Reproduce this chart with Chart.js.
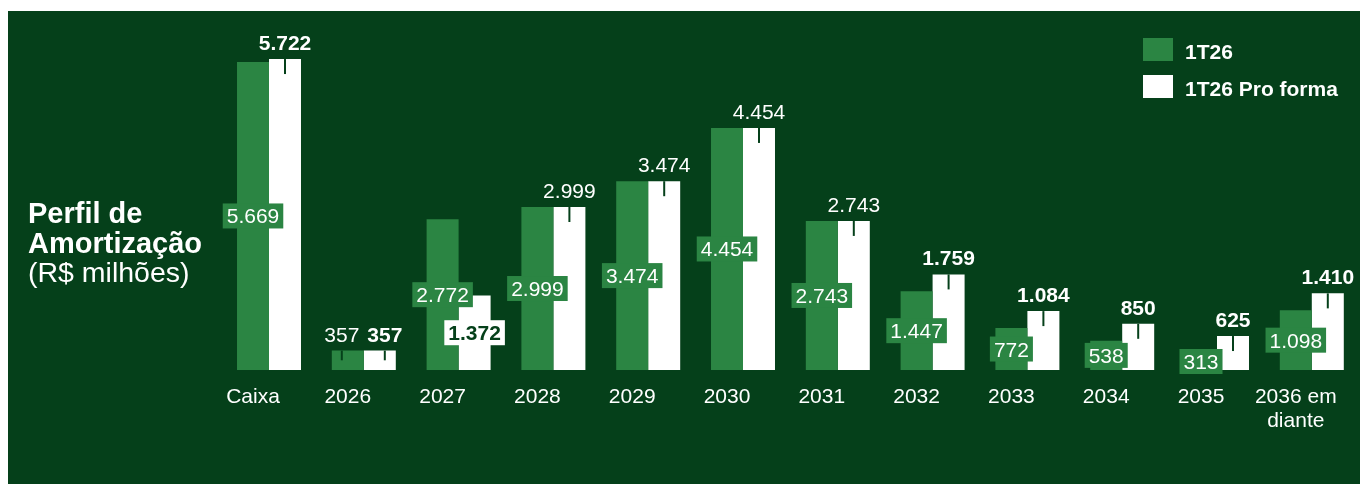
<!DOCTYPE html>
<html><head><meta charset="utf-8">
<script src="https://cdn.jsdelivr.net/npm/chart.js@4/dist/chart.umd.min.js"></script>
<style>html,body{margin:0;padding:0;background:#fff;overflow:hidden}#wrap{width:1360px;height:484px;position:relative}</style>
</head><body><div id="wrap"><canvas id="c" width="1360" height="484"></canvas></div>
<script>
// ---- data ----
const categories = ['Caixa','2026','2027','2028','2029','2030','2031','2032','2033','2034','2035',['2036 em','diante']];
const serie1T26 = [5669,357,2772,2999,3474,4454,2743,1447,772,538,313,1098];
const serieProForma = [5722,357,1372,2999,3474,4454,2743,1759,1084,850,625,1410];
const seriesNames = ['1T26','1T26 Pro forma'];
const titleLines = ['Perfil de','Amortização','(R$ milhões)'];

// ---- label modes (style only) ----
const labelModes1T26 = ['box','above','box','box','box','box','box','box','box','box','box','box'];
const labelModesPF = ['aboveBold','aboveBold','boxDark','above','above','above','above','aboveBold','aboveBold','aboveBold','aboveBold','aboveBold'];
// small horizontal nudges of above-labels to avoid collisions (px)
const labelNudge1T26 = [0,-6,0,0,0,0,0,0,0,0,0,0];
const labelNudgePF = [0,5,0,0,0,0,0,0,0,0,0,0];

const BG = '#05401a';
const GREEN = '#2b8543';
const WHITE = '#ffffff';
const FONT = '"Liberation Sans", Arial, sans-serif';

function fmt(v){ return String(v).replace(/\B(?=(\d{3})+(?!\d))/g,'.'); }

const deco = {
  id:'deco',
  beforeDraw(chart){
    const ctx = chart.ctx;
    ctx.save();
    ctx.fillStyle = '#ffffff';
    ctx.fillRect(0,0,chart.width,chart.height);
    ctx.fillStyle = BG;
    ctx.fillRect(8,11,chart.width-8,chart.height-11);
    ctx.restore();
  },
  afterDatasetsDraw(chart){
    const ctx = chart.ctx;
    const modes = [labelModes1T26, labelModesPF];
    const nudges = [labelNudge1T26, labelNudgePF];
    ctx.save();
    // leader ticks
    chart.data.datasets.forEach((ds,di)=>{
      const meta = chart.getDatasetMeta(di);
      meta.data.forEach((el,i)=>{
        const m = modes[di][i];
        if(m.startsWith('above')){
          const h = el.base - el.y;
          const lx = el.x + nudges[di][i];
          ctx.strokeStyle = BG; ctx.lineWidth = 2;
          ctx.beginPath(); ctx.moveTo(lx, el.y); ctx.lineTo(lx, el.y + Math.min(15, h*0.5)); ctx.stroke();
        }
      });
    });
    // labels
    chart.data.datasets.forEach((ds,di)=>{
      const meta = chart.getDatasetMeta(di);
      meta.data.forEach((el,i)=>{
        const m = modes[di][i];
        const txt = fmt(ds.data[i]);
        ctx.textAlign = 'center';
        if(m.startsWith('above')){
          ctx.font = (m==='aboveBold'?'bold ':'') + '21px ' + FONT;
          ctx.fillStyle = WHITE; ctx.textBaseline = 'alphabetic';
          ctx.fillText(txt, el.x + nudges[di][i], el.y - 9);
        } else {
          const dark = m==='boxDark';
          ctx.font = (dark?'bold ':'') + '21px ' + FONT;
          const w = ctx.measureText(txt).width;
          const my = (el.y + el.base)/2;
          ctx.fillStyle = dark ? WHITE : GREEN;
          ctx.fillRect(el.x - w/2 - 4, my - 12.5, w + 8, 25);
          ctx.fillStyle = dark ? BG : WHITE;
          ctx.textBaseline = 'alphabetic';
          ctx.fillText(txt, el.x, my + 7.5);
        }
      });
    });
    ctx.restore();
  },
  afterDraw(chart){
    const ctx = chart.ctx;
    ctx.save();
    ctx.fillStyle = WHITE; ctx.textAlign = 'left'; ctx.textBaseline = 'alphabetic';
    ctx.font = 'bold 29px ' + FONT;
    ctx.fillText(titleLines[0], 28, 223);
    ctx.fillText(titleLines[1], 28, 253);
    ctx.font = '28.5px ' + FONT;
    ctx.fillText(titleLines[2], 28, 282);
    // legend
    chart.data.datasets.forEach((ds,di)=>{
      const y = 38 + di*37;
      ctx.fillStyle = ds.backgroundColor;
      ctx.fillRect(1143, y, 30, 23);
      ctx.fillStyle = WHITE;
      ctx.font = 'bold 21px ' + FONT;
      ctx.fillText(ds.label, 1185, y + 21);
    });
    ctx.restore();
  }
};

new Chart(document.getElementById('c'), {
  type:'bar',
  data:{
    labels: categories,
    datasets:[
      {label: seriesNames[0], data: serie1T26, backgroundColor: GREEN, borderWidth:0, categoryPercentage:0.675, barPercentage:1},
      {label: seriesNames[1], data: serieProForma, backgroundColor: WHITE, borderWidth:0, categoryPercentage:0.675, barPercentage:1}
    ]
  },
  options:{
    responsive:false, animation:false, devicePixelRatio:1,
    layout:{padding:{left:221.6,right:0.8,top:11,bottom:0}},
    plugins:{legend:{display:false}, tooltip:{enabled:false}},
    scales:{
      x:{
        grid:{display:false, drawTicks:false}, border:{display:false},
        ticks:{color:WHITE, font:{family:FONT, size:21, lineHeight:1.143}, padding:15, maxRotation:0, autoSkip:false, labelOffset:-16},
        afterFit(s){ s.height = 114; s.paddingLeft = 0; s.paddingRight = 0; }
      },
      y:{display:false, min:0, max:6606}
    }
  },
  plugins:[deco]
});
</script></body></html>
